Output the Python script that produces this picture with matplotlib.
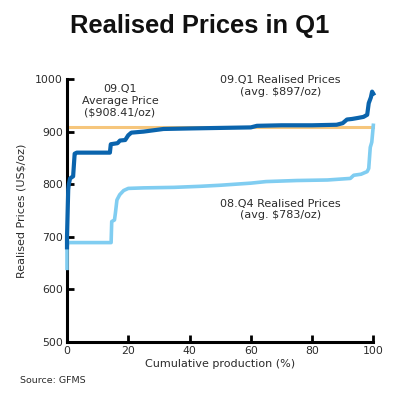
import matplotlib.pyplot as plt

# 09.Q1 realised prices (cumulative production %, US$/oz)
q1_x = [0, 0, 0.4, 0.6, 1.0, 2.0, 2.5, 3.2, 14.0, 14.3, 16.5, 17.3, 19.0, 20.0, 21.0, 25, 31.5,
        40, 50, 60, 62, 70, 80, 88, 90, 91.4, 93, 95, 96.8, 98, 98.5, 99.2, 99.6, 100]
q1_y = [680, 700, 790, 800, 811, 815, 858, 860, 860, 876, 878, 883, 884, 893, 898, 900, 905,
        906, 907, 908, 911, 912, 912, 913, 916, 923, 924, 926, 928, 932, 954, 965, 976, 972]

# 08.Q4 realised prices
q4_x = [0, 0, 0.3, 14.4, 14.6, 15.5, 15.8, 16.3, 17.2, 18.5, 20, 25, 35, 43.5, 50, 60, 65,
        75, 85, 92.5, 93.6, 96, 98, 98.5, 99, 99.5, 100]
q4_y = [640, 680, 689, 689, 729, 732, 745, 770, 780, 788, 792, 793, 794, 796, 798, 802, 805,
        807, 808, 811, 817, 819, 824, 830, 870, 880, 912]

avg_q1 = 908.41
x_ticks = [0, 20, 40, 60, 80, 100]
y_ticks = [500, 600, 700, 800, 900, 1000]

dark_blue = '#0a64ad'
light_blue = '#80cdf1'
orange = '#f6c67c'
txt = '#2b2b2b'

fig = plt.figure(figsize=(4, 3.98), dpi=100)
ax = fig.add_axes([0.1675, 0.1407, 0.7658, 0.6608])

ax.plot([0, 100], [avg_q1, avg_q1], color=orange, lw=2.2, clip_on=False, zorder=2)
ax.plot(q4_x, q4_y, color=light_blue, lw=2.6, clip_on=False, zorder=3)
ax.plot(q1_x, q1_y, color=dark_blue, lw=3.0, clip_on=False, zorder=4)

ax.set_xlim(0, 100)
ax.set_ylim(500, 1000)
ax.set_xticks(x_ticks)
ax.set_yticks(y_ticks)
for s in ['top', 'right']:
    ax.spines[s].set_visible(False)
for s in ['left', 'bottom']:
    ax.spines[s].set_linewidth(2.2)
ax.tick_params(direction='in', length=5, width=2, labelsize=7.8, labelcolor=txt, color='black', pad=3)

ax.set_xlabel('Cumulative production (%)', fontsize=8, color=txt, labelpad=2)
ax.set_ylabel('Realised Prices (US$/oz)', fontsize=8, color=txt, labelpad=6)

ax.text(17.3, 958, '09.Q1\nAverage Price\n($908.41/oz)', ha='center', va='center',
        fontsize=8, color=txt, linespacing=1.2)
ax.text(69.6, 987, '09.Q1 Realised Prices\n(avg. $897/oz)', ha='center', va='center',
        fontsize=8, color=txt, linespacing=1.2)
ax.text(69.6, 752, '08.Q4 Realised Prices\n(avg. $783/oz)', ha='center', va='center',
        fontsize=8, color=txt, linespacing=1.2)

fig.text(0.5, 0.935, 'Realised Prices in Q1', ha='center', va='center', fontsize=18.4,
         fontweight='bold', family='Liberation Sans', color='#111111')
fig.text(0.05, 0.045, 'Source: GFMS', ha='left', va='center', fontsize=6.8, color=txt)

fig.savefig('out.png', dpi=100)
